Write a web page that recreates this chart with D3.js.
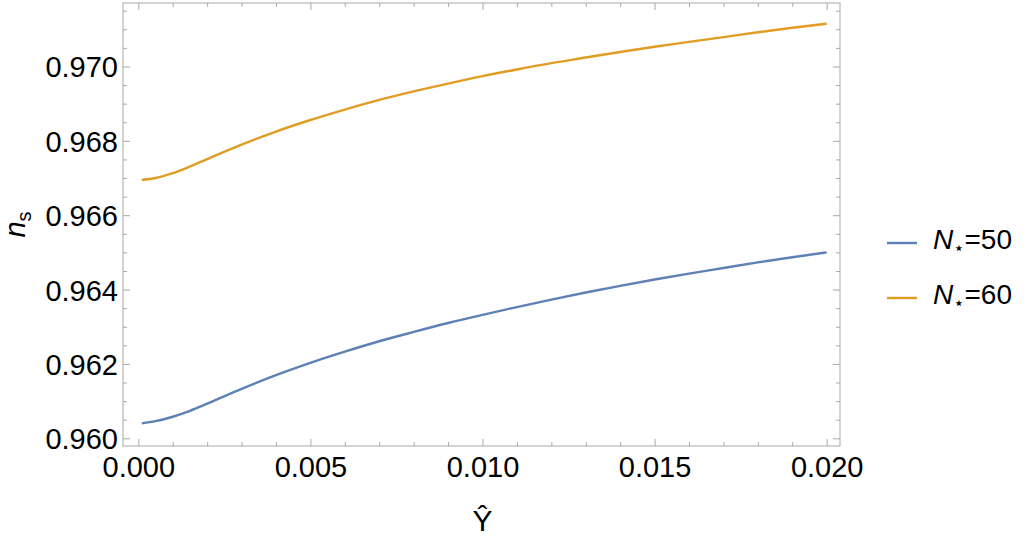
<!DOCTYPE html>
<html>
<head>
<meta charset="utf-8">
<script src="https://cdn.jsdelivr.net/npm/d3@7"></script>
<style>
  html, body { margin: 0; padding: 0; background: #fff; }
  svg { display: block; font-family: "Liberation Sans", Arial, sans-serif; }
</style>
</head>
<body>
<div id="chart"></div>
<script>
// Y-hat values sampled along both curves
const yHat = [0.0001, 0.0005, 0.001, 0.0015, 0.002, 0.003, 0.004, 0.005, 0.006, 0.007,
              0.008, 0.009, 0.010, 0.011, 0.012, 0.013, 0.014, 0.015, 0.016, 0.017,
              0.018, 0.019, 0.020];

// n_s for N*=50
const ns50 = [0.96040, 0.96046, 0.96058, 0.96074, 0.96093, 0.96133, 0.96170, 0.96203,
              0.96233, 0.96261, 0.96286, 0.96310, 0.96332, 0.96353, 0.96373, 0.96392,
              0.96410, 0.96427, 0.96443, 0.96458, 0.96473, 0.96487, 0.96500];

// n_s for N*=60
const ns60 = [0.96695, 0.96700, 0.96713, 0.96731, 0.96751, 0.96790, 0.96825, 0.96856,
              0.96884, 0.96910, 0.96933, 0.96954, 0.96974, 0.96992, 0.97009, 0.97024,
              0.97039, 0.97053, 0.97066, 0.97079, 0.97092, 0.97104, 0.97115];

const seriesNames = ["50", "60"];
const seriesColors = ["#5e81b5", "#e19c24"];

const xMajor = [0, 0.005, 0.010, 0.015, 0.020];
const yMajor = [0.960, 0.962, 0.964, 0.966, 0.968, 0.970];

const width = 1028, height = 540;
const frame = { left: 123, right: 840, top: 3, bottom: 446 };
const frameColor = "#a9a9a9";

const svg = d3.select("#chart").append("svg")
    .attr("width", width)
    .attr("height", height);

const x = d3.scaleLinear()
    .domain([-0.000445, 0.020387])
    .range([frame.left, frame.right]);

const y = d3.scaleLinear()
    .domain([0.959793, 0.971707])
    .range([frame.bottom, frame.top]);

// minor tick values
const xMinor = d3.range(0, 0.02005, 0.001).filter(v => !xMajor.some(m => Math.abs(m - v) < 1e-9));
const yMinor = d3.range(0.9595, 0.9718, 0.0005)
    .filter(v => v > y.domain()[0] && v < y.domain()[1])
    .filter(v => !yMajor.some(m => Math.abs(m - v) < 1e-9));

function styleAxis(g) {
    g.select(".domain").remove();
    g.selectAll(".tick line").attr("stroke", frameColor).attr("stroke-width", 1);
}

// bottom / top
svg.append("g")
    .attr("transform", `translate(0,${frame.bottom})`)
    .call(d3.axisBottom(x).tickValues(xMajor).tickSize(-7).tickPadding(10).tickFormat(d3.format(".3f")))
    .call(styleAxis)
    .call(g => g.selectAll("text").attr("font-size", 29).attr("fill", "#000")
        .attr("font-family", "Liberation Sans, Arial, sans-serif"));
svg.append("g")
    .attr("transform", `translate(0,${frame.bottom})`)
    .call(d3.axisBottom(x).tickValues(xMinor).tickSize(-4).tickFormat(""))
    .call(styleAxis);
svg.append("g")
    .attr("transform", `translate(0,${frame.top})`)
    .call(d3.axisTop(x).tickValues(xMajor).tickSize(-7).tickFormat(""))
    .call(styleAxis);
svg.append("g")
    .attr("transform", `translate(0,${frame.top})`)
    .call(d3.axisTop(x).tickValues(xMinor).tickSize(-4).tickFormat(""))
    .call(styleAxis);

// left / right
svg.append("g")
    .attr("transform", `translate(${frame.left},0)`)
    .call(d3.axisLeft(y).tickValues(yMajor).tickSize(-7).tickPadding(5).tickFormat(d3.format(".3f")))
    .call(styleAxis)
    .call(g => g.selectAll("text").attr("font-size", 29).attr("fill", "#000").attr("dy", "0.36em")
        .attr("font-family", "Liberation Sans, Arial, sans-serif"));
svg.append("g")
    .attr("transform", `translate(${frame.left},0)`)
    .call(d3.axisLeft(y).tickValues(yMinor).tickSize(-4).tickFormat(""))
    .call(styleAxis);
svg.append("g")
    .attr("transform", `translate(${frame.right},0)`)
    .call(d3.axisRight(y).tickValues(yMajor).tickSize(-7).tickFormat(""))
    .call(styleAxis);
svg.append("g")
    .attr("transform", `translate(${frame.right},0)`)
    .call(d3.axisRight(y).tickValues(yMinor).tickSize(-4).tickFormat(""))
    .call(styleAxis);

// frame
svg.append("rect")
    .attr("x", frame.left)
    .attr("y", frame.top)
    .attr("width", frame.right - frame.left)
    .attr("height", frame.bottom - frame.top)
    .attr("fill", "none")
    .attr("stroke", frameColor)
    .attr("stroke-width", 1);

// curves
const line = d3.line()
    .x(d => x(d[0]))
    .y(d => y(d[1]))
    .curve(d3.curveMonotoneX);

[ns50, ns60].forEach((vals, i) => {
    svg.append("path")
        .datum(yHat.map((v, j) => [v, vals[j]]))
        .attr("d", line)
        .attr("fill", "none")
        .attr("stroke", seriesColors[i])
        .attr("stroke-width", 2.4)
        .attr("stroke-linejoin", "round");
});

// axis labels
svg.append("text")
    .attr("x", (x(0) + x(0.02)) / 2)
    .attr("y", 531)
    .attr("text-anchor", "middle")
    .attr("font-size", 30)
    .attr("fill", "#000")
    .text("Ŷ");

const yl = svg.append("text")
    .attr("transform", `translate(25,${(frame.top + frame.bottom) / 2}) rotate(-90)`)
    .attr("text-anchor", "middle")
    .attr("font-size", 29)
    .attr("fill", "#000");
yl.append("tspan").attr("font-style", "italic").text("n");
yl.append("tspan").attr("font-size", 20).attr("dy", 6).text("s");

// legend
const legend = svg.append("g");
seriesNames.forEach((name, i) => {
    const ly = 243 + i * 55;
    legend.append("line")
        .attr("x1", 887).attr("x2", 917)
        .attr("y1", ly).attr("y2", ly)
        .attr("stroke", seriesColors[i])
        .attr("stroke-width", 2.4);
    const t = legend.append("text")
        .attr("x", 933)
        .attr("y", ly + 6)
        .attr("font-size", 28)
        .attr("fill", "#000");
    t.append("tspan").attr("font-style", "italic").text("N");
    t.append("tspan").attr("font-size", 18).attr("dy", 5)
        .attr("font-family", "DejaVu Sans, sans-serif").text("⋆");
    t.append("tspan").attr("dy", -5).text("=" + name);
});
</script>
</body>
</html>
